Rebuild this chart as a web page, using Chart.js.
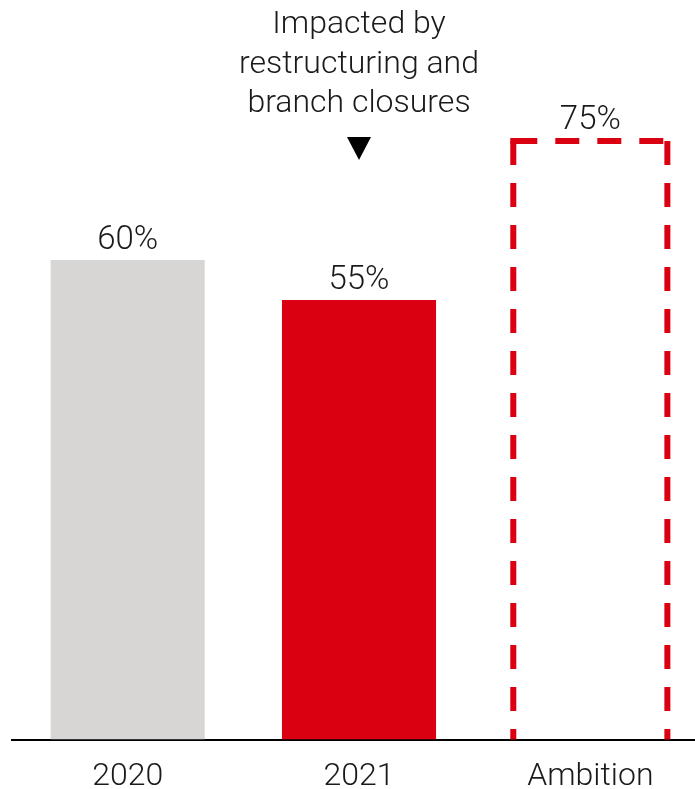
<!DOCTYPE html>
<html>
<head>
<meta charset="utf-8">
<script src="https://cdn.jsdelivr.net/npm/chart.js@4"></script>
<style>
  body { margin: 0; background: #fff; overflow: hidden; }
  #wrap { width: 695px; height: 789px; overflow: hidden; }
</style>
</head>
<body>
<div id="wrap"><canvas id="chart" width="706" height="814"></canvas></div>
<script>
// chart data
const categories = ['2020', '2021', 'Ambition']
const values = [60, 55, 75]
const barColors = ['#D7D6D4', '#DB0011', 'rgba(0,0,0,0)']
const dashed = [false, false, true]
const noteLines = ['Impacted by', 'restructuring and', 'branch closures']
const noteIndex = 1

const RED = '#DB0011'
const FAMILY = "Roboto, 'Liberation Sans', sans-serif"

// value labels, dashed ambition box and the note above 2021
const barExtras = {
  id: 'barExtras',
  afterDatasetsDraw (chart) {
    const ctx = chart.ctx
    const meta = chart.getDatasetMeta(0)
    ctx.save()
    meta.data.forEach(function (bar, i) {
      const left = bar.x - bar.width / 2
      const right = bar.x + bar.width / 2
      if (dashed[i]) {
        const lw = 6
        const t = bar.y + 1
        ctx.strokeStyle = RED
        ctx.fillStyle = RED
        ctx.lineWidth = lw
        ctx.setLineDash([24, 18])
        ctx.beginPath()
        ctx.moveTo(left, t); ctx.lineTo(right + lw / 2, t)
        ctx.moveTo(left, t); ctx.lineTo(left, bar.base)
        ctx.moveTo(right, t); ctx.lineTo(right, bar.base)
        ctx.stroke()
        ctx.setLineDash([])
        // close the top left corner
        ctx.fillRect(left - lw / 2, t - lw / 2, lw, lw)
      }
      ctx.fillStyle = '#1a1a1a'
      ctx.font = '300 33px ' + FAMILY
      ctx.textAlign = 'center'
      ctx.textBaseline = 'alphabetic'
      ctx.fillText(values[i] + '%', bar.x, bar.y - 11)
    })

    // note over the 2021 bar
    const nb = meta.data[noteIndex]
    ctx.font = '300 32px ' + FAMILY
    ctx.fillStyle = '#1a1a1a'
    noteLines.forEach(function (line, k) {
      ctx.fillText(line, nb.x, 33 + k * 39.5)
    })
    ctx.beginPath()
    ctx.moveTo(nb.x - 12, 137)
    ctx.lineTo(nb.x + 12, 137)
    ctx.lineTo(nb.x, 160)
    ctx.closePath()
    ctx.fillStyle = '#000'
    ctx.fill()
    ctx.restore()
  }
}

const ctx = document.getElementById('chart').getContext('2d')
const myChart = new Chart(ctx, {
  type: 'bar',
  data: {
    labels: categories,
    datasets: [{
      data: values,
      backgroundColor: barColors,
      borderWidth: 0,
      barPercentage: 0.666,
      categoryPercentage: 1
    }]
  },
  options: {
    responsive: false,
    animation: false,
    devicePixelRatio: 1,
    layout: { padding: { top: 100, left: 12, right: 0, bottom: 0 } },
    plugins: { legend: { display: false }, tooltip: { enabled: false } },
    scales: {
      x: {
        grid: { display: false, drawTicks: false },
        border: { display: true, color: '#000', width: 2 },
        ticks: {
          color: '#1a1a1a',
          padding: 18,
          font: { family: FAMILY, size: 32, weight: '300', lineHeight: 1.2 }
        }
      },
      y: {
        display: false,
        min: 0,
        max: 80
      }
    }
  },
  plugins: [barExtras]
})
</script>
</body>
</html>
